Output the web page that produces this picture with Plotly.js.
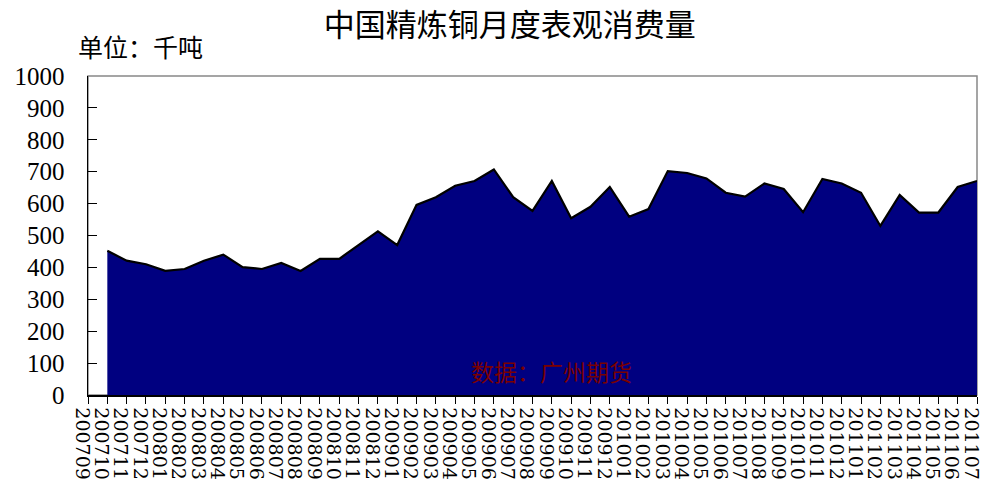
<!DOCTYPE html>
<html>
<head>
<meta charset="utf-8">
<script src="https://cdn.plot.ly/plotly-3.0.1.min.js"></script>
<style>html,body{margin:0;padding:0;background:#fff;}#chart{width:982px;height:490px;}</style>
</head>
<body>
<div id="chart"></div>
<script>
const months = ["200709","200710","200711","200712","200801","200802","200803","200804","200805","200806","200807","200808","200809","200810","200811","200812","200901","200902","200903","200904","200905","200906","200907","200908","200909","200910","200911","200912","201001","201002","201003","201004","201005","201006","201007","201008","201009","201010","201011","201012","201101","201102","201103","201104","201105","201106","201107"];
const consumption = [null,452,421,410,389,395,421,440,401,395,414,389,427,427,470,513,470,596,620,656,671,707,620,577,671,554,590,652,559,583,702,696,679,634,622,663,646,573,677,663,634,530,627,572,572,652,671];
const titleText = "中国精炼铜月度表观消费量";
const unitText = "单位：千吨";
const sourceText = "数据：广州期货";

const trace = {
  type: "scatter",
  mode: "lines",
  x: months,
  y: consumption,
  fill: "tozeroy",
  fillcolor: "#000080",
  line: {color: "#000000", width: 2.2, shape: "linear"},
  connectgaps: false,
  hoverinfo: "x+y"
};

const layout = {
  width: 982, height: 490,
  margin: {l: 88, r: 5, t: 76, b: 95},
  paper_bgcolor: "#ffffff",
  plot_bgcolor: "#ffffff",
  showlegend: false,
  title: {text: titleText, x: 0.519, xanchor: "center", y: 0.948, yanchor: "middle",
          font: {family: "Noto Sans CJK SC", size: 31, color: "#000"}},
  xaxis: {
    type: "category",
    categoryorder: "array",
    categoryarray: months,
    tickmode: "array",
    tickvals: months,
    ticktext: months,
    range: [0, months.length - 1],
    tickangle: 90,
    ticklabelshift: -6,
    ticks: "outside", ticklen: 7, tickcolor: "#000", tickwidth: 1,
    showline: true, linecolor: "#000", linewidth: 1.5,
    showgrid: false, zeroline: false,
    tickfont: {family: "DejaVu Serif", size: 19, color: "#000"},
    fixedrange: true
  },
  yaxis: {
    range: [0, 1000],
    dtick: 100,
    tick0: 0,
    ticks: "inside", ticklen: 9, tickcolor: "#000", tickwidth: 1,
    showline: true, linecolor: "#000", linewidth: 1.5,
    showgrid: false, zeroline: false,
    tickfont: {family: "Liberation Serif", size: 25, color: "#000"},
    ticklabelstandoff: 17,
    fixedrange: true
  },
  shapes: [
    {type: "rect", xref: "paper", yref: "paper", x0: 0, x1: 1, y0: 0, y1: 1,
     line: {color: "#888888", width: 1.5}, layer: "below"}
  ],
  annotations: [
    {text: unitText, xref: "paper", yref: "paper", x: -0.013, y: 1.095, xanchor: "left", yanchor: "middle",
     showarrow: false, font: {family: "Noto Sans CJK SC", size: 25, color: "#000"}},
    {text: sourceText, xref: "paper", yref: "paper", x: 0.521, y: 0.075, xanchor: "center", yanchor: "middle",
     showarrow: false, font: {family: "Noto Sans CJK SC", size: 23, color: "#7a0000"}}
  ]
};

Plotly.newPlot("chart", [trace], layout, {displayModeBar: false, staticPlot: true});
</script>
</body>
</html>
